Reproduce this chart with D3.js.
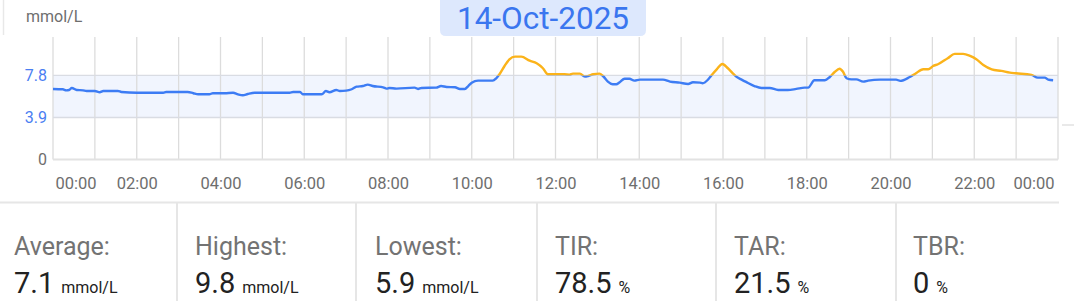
<!DOCTYPE html>
<html>
<head>
<meta charset="utf-8">
<script src="https://cdn.jsdelivr.net/npm/d3@7"></script>
<style>
  body { margin: 0; background: #fff; font-family: Roboto, "Noto Sans", sans-serif; }
  svg { display: block; }
</style>
</head>
<body>
<div id="chart"></div>
<script>
// Readings (time of day, mmol/L)
let times = ["00:00","00:14","00:19","00:23","00:27","00:34","00:43","00:48","01:00","01:07",
  "01:12","01:33","01:38","02:00","02:38","02:42","03:13","03:21","03:28","03:44",
  "03:49","04:06","04:18","04:25","04:32","04:39","04:49","05:39","05:44","05:54",
  "05:58","06:25","06:31","06:36","06:46","06:51","07:00","07:08","07:15","07:24",
  "07:31","07:38","07:53","07:58","08:02","08:12","08:38","08:43","08:48","09:09",
  "09:16","09:24","09:36","09:43","09:50","09:55","10:00","10:09","10:30","10:35",
  "10:40","10:47","10:54","11:02","11:11","11:23","11:33","11:42","11:49","12:13",
  "12:20","12:25","12:35","12:42","12:47","12:54","13:03","13:08","13:15","13:22",
  "13:27","13:32","13:39","13:46","13:53","14:01","14:34","14:44","14:58","15:10",
  "15:17","15:27","15:31","15:38","15:43","15:51","15:59","16:07","16:14","16:19",
  "16:26","16:33","16:45","16:55","17:07","17:19","17:33","17:45","17:57","18:02",
  "18:11","18:26","18:33","18:40","18:47","18:52","18:57","19:04","19:11","19:21",
  "19:28","19:45","20:08","20:14","20:27","20:35","20:47","20:54","21:01","21:08",
  "21:22","21:32","21:44","21:54","22:03","22:13","22:25","22:39","22:51","23:00",
  "23:22","23:31","23:41","23:46","23:53"];
let glucose = [6.55,6.52,6.42,6.45,6.64,6.45,6.42,6.36,6.36,6.24,
  6.36,6.36,6.27,6.2,6.2,6.27,6.27,6.15,6.05,6.05,
  6.15,6.15,6.2,6.05,5.96,6.08,6.2,6.2,6.27,6.27,
  6.05,6.05,6.36,6.24,6.45,6.36,6.39,6.52,6.76,6.82,
  6.95,6.82,6.7,6.58,6.64,6.58,6.67,6.55,6.64,6.67,
  6.82,6.73,6.7,6.55,6.55,6.82,7.13,7.32,7.32,7.54,
  7.94,8.68,9.3,9.55,9.55,9.17,8.93,8.47,7.91,7.91,
  7.88,7.97,7.97,7.69,7.75,7.91,7.97,7.75,7.23,6.98,
  6.98,7.17,7.5,7.5,7.32,7.41,7.41,7.23,7.13,7.01,
  7.17,7.13,7.08,7.38,7.78,8.37,8.87,8.47,8.0,7.69,
  7.44,7.2,6.82,6.64,6.64,6.45,6.45,6.55,6.67,6.67,
  7.35,7.35,7.66,8.12,8.43,8.15,7.54,7.44,7.44,7.23,
  7.32,7.41,7.41,7.3,7.63,7.94,8.37,8.37,8.68,8.84,
  9.4,9.8,9.8,9.61,9.3,8.77,8.37,8.22,8.06,8.0,
  7.85,7.6,7.6,7.41,7.35];

// Target range and axis ticks
let rangeLow = 3.9;
let rangeHigh = 7.8;
let yTicks = [0, 3.9, 7.8];
let xTickHours = [0, 2, 4, 6, 8, 10, 12, 14, 16, 18, 20, 22, 24];

let title = "14-Oct-2025";
let unit = "mmol/L";
let statLabels = ["Average:", "Highest:", "Lowest:", "TIR:", "TAR:", "TBR:"];
let statValues = ["7.1", "9.8", "5.9", "78.5", "21.5", "0"];
let statUnits = ["mmol/L", "mmol/L", "mmol/L", "%", "%", "%"];

let svgWidth = 1074;
let svgHeight = 301;
let margin = { top: 37, left: 53, right: 16 };
let plotBottom = 159.5;

let blue = "#3d7cf4";
let orange = "#fbb31a";

let svg = d3.select("#chart").append("svg")
  .attr("width", svgWidth)
  .attr("height", svgHeight);

let day0 = new Date(2025, 9, 14, 0, 0);
let day1 = new Date(2025, 9, 15, 0, 0);
let parseT = (s) => {
  let p = s.split(":");
  return new Date(2025, 9, 14, +p[0], +p[1]);
};
let data = times.map((t, i) => ({ t: parseT(t), v: glucose[i] }));

let x = d3.scaleTime().domain([day0, day1]).range([margin.left, svgWidth - margin.right]);
let y = d3.scaleLinear().domain([0, 11.37]).range([plotBottom, margin.top]);

// card edge at top left + unit
svg.append("line")
  .attr("x1", 3.5).attr("x2", 3.5).attr("y1", 0).attr("y2", 35)
  .attr("stroke", "#e8e8e8").attr("stroke-width", 1.5);
svg.append("text")
  .attr("x", 26).attr("y", 22)
  .attr("font-size", 16).attr("fill", "#6e6e6e")
  .text(unit);

// title badge
svg.append("path")
  .attr("d", "M440,0 H646 V30 Q646,36 640,36 H446 Q440,36 440,30 Z")
  .attr("fill", "#dde8fd");
svg.append("text")
  .attr("x", 543).attr("y", 28.5)
  .attr("text-anchor", "middle")
  .attr("font-size", 31.5).attr("fill", "#3a76ef")
  .text(title);

// target band
svg.append("rect")
  .attr("x", x(day0)).attr("width", x(day1) - x(day0))
  .attr("y", y(rangeHigh)).attr("height", y(rangeLow) - y(rangeHigh))
  .attr("fill", "#f1f5fe");

// hourly vertical grid
let hours = d3.timeHour.range(day0, d3.timeHour.offset(day1, 1));
svg.append("g").selectAll("line")
  .data(hours)
  .enter().append("line")
  .attr("x1", (d) => x(d)).attr("x2", (d) => x(d))
  .attr("y1", margin.top).attr("y2", plotBottom)
  .attr("stroke", "#dcdcdc").attr("stroke-width", 1.3);

// horizontal lines at y ticks
svg.append("g").selectAll("line")
  .data(yTicks)
  .enter().append("line")
  .attr("x1", x(day0)).attr("x2", x(day1))
  .attr("y1", (d) => y(d)).attr("y2", (d) => y(d))
  .attr("stroke", (d) => (d === 0 ? "#e2e2e2" : "#d9dce3"))
  .attr("stroke-width", (d) => (d === 0 ? 2 : 1.3));

// small stray line at the right edge
svg.append("line")
  .attr("x1", 1062).attr("x2", 1074).attr("y1", 125).attr("y2", 125)
  .attr("stroke", "#e2e2e2").attr("stroke-width", 1.5);

// y axis labels
let yAxis = d3.axisLeft(y).tickValues(yTicks).tickSize(0).tickPadding(6)
  .tickFormat((d) => (d === 0 ? "0" : d3.format(".1f")(d)));
let yAxisG = svg.append("g")
  .attr("transform", `translate(${margin.left},0)`)
  .call(yAxis);
yAxisG.select(".domain").remove();
yAxisG.selectAll("text")
  .attr("font-family", "Roboto, sans-serif")
  .attr("font-size", 16)
  .attr("fill", (d) => (d === 0 ? "#6e6e6e" : "#4a7ef2"));

// x axis labels
let xAxis = d3.axisBottom(x)
  .tickValues(xTickHours.map((h) => d3.timeHour.offset(day0, h)))
  .tickSize(0).tickPadding(18)
  .tickFormat(d3.timeFormat("%H:%M"));
let xAxisG = svg.append("g")
  .attr("transform", `translate(0,${plotBottom})`)
  .call(xAxis);
xAxisG.select(".domain").remove();
xAxisG.selectAll("text")
  .attr("font-family", "Roboto, sans-serif")
  .attr("font-size", 16.5)
  .attr("fill", "#6e6e6e");
xAxisG.selectAll(".tick").filter((d, i) => i === 0)
  .select("text").attr("text-anchor", "start").attr("dx", 2);
xAxisG.selectAll(".tick").filter((d, i) => i === xTickHours.length - 1)
  .select("text").attr("text-anchor", "end").attr("dx", -4);

// glucose trace, blue inside range, orange above
let line = d3.line()
  .x((d) => x(d.t))
  .y((d) => y(d.v))
  .curve(d3.curveMonotoneX);

let defs = svg.append("defs");
defs.append("clipPath").attr("id", "clipHigh")
  .append("rect").attr("x", 0).attr("y", 0)
  .attr("width", svgWidth).attr("height", y(rangeHigh));
defs.append("clipPath").attr("id", "clipLow")
  .append("rect").attr("x", 0).attr("y", y(rangeHigh))
  .attr("width", svgWidth).attr("height", svgHeight);

svg.append("path")
  .datum(data)
  .attr("d", line)
  .attr("fill", "none")
  .attr("stroke", blue)
  .attr("stroke-width", 2.4)
  .attr("clip-path", "url(#clipLow)");
svg.append("path")
  .datum(data)
  .attr("d", line)
  .attr("fill", "none")
  .attr("stroke", orange)
  .attr("stroke-width", 2.4)
  .attr("clip-path", "url(#clipHigh)");

// stats panel
let colX = [0, 177, 356, 537, 716, 896];
let padX = [14, 18, 19, 18, 18, 17];
svg.append("line")
  .attr("x1", 0).attr("x2", 1059).attr("y1", 202.5).attr("y2", 202.5)
  .attr("stroke", "#e6e6e6").attr("stroke-width", 2);

let stats = svg.append("g").selectAll("g")
  .data(statLabels)
  .enter().append("g")
  .attr("transform", (d, i) => `translate(${colX[i]},0)`);

stats.filter((d, i) => i > 0).append("line")
  .attr("x1", 0).attr("x2", 0).attr("y1", 203).attr("y2", svgHeight)
  .attr("stroke", "#e6e6e6").attr("stroke-width", 2);

stats.append("text")
  .attr("x", (d, i) => padX[i]).attr("y", 255)
  .attr("font-size", 25).attr("fill", "#737373")
  .text((d) => d);

let valText = stats.append("text")
  .attr("x", (d, i) => padX[i]).attr("y", 293)
  .attr("fill", "#222");
valText.append("tspan")
  .attr("font-size", 29)
  .text((d, i) => statValues[i]);
valText.append("tspan")
  .attr("font-size", 16)
  .attr("dx", 7)
  .text((d, i) => statUnits[i]);
</script>
</body>
</html>
